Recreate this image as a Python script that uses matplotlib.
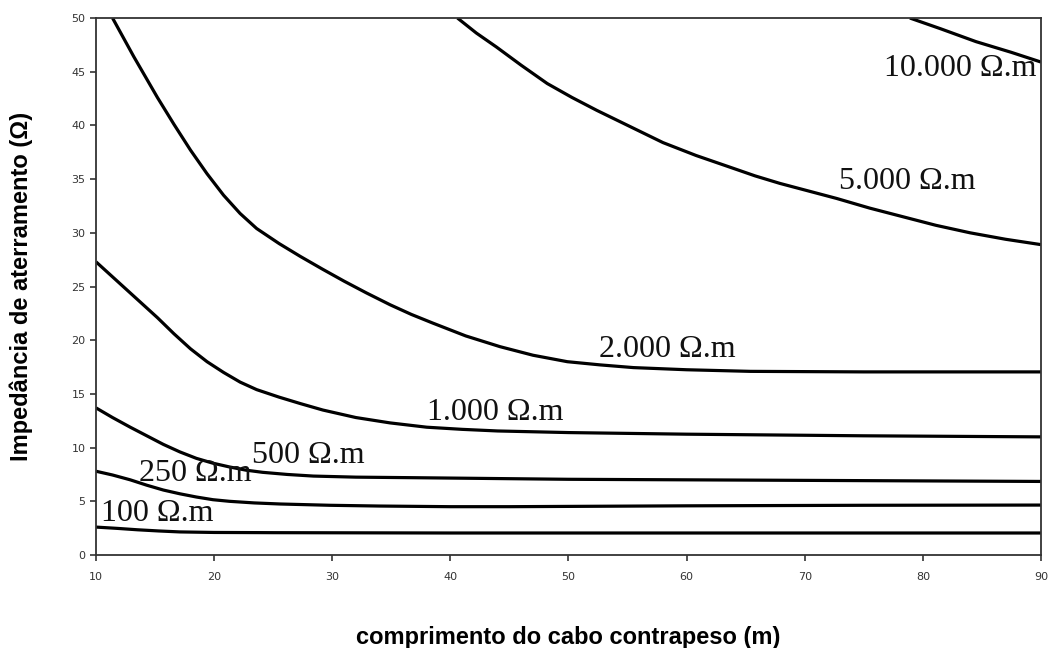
import matplotlib
matplotlib.use('Agg')
import matplotlib.pyplot as plt

# curves (x = comprimento, y = impedancia)
x_10000 = [78.9, 81.5, 84.5, 87.5, 90.0]
y_10000 = [50.0, 49.0, 47.8, 46.8, 45.9]

x_5000 = [40.6, 42.2, 43.9, 46.0, 48.2, 50.3, 52.4, 55.2, 58.0, 60.8, 63.7, 65.8,
          67.9, 70.3, 72.7, 75.5, 78.3, 81.1, 84.0, 87.0, 90.0]
y_5000 = [50.0, 48.6, 47.3, 45.6, 43.9, 42.6, 41.4, 39.9, 38.4, 37.2, 36.1, 35.3,
          34.6, 33.9, 33.2, 32.3, 31.5, 30.7, 30.0, 29.4, 28.9]

x_2000 = [11.4, 12.3, 13.2, 14.2, 15.2, 16.6, 18.0, 19.4, 20.8, 22.2, 23.6, 25.5,
          27.3, 29.2, 31.0, 32.9, 34.9, 36.7, 38.5, 41.3, 44.2, 47.0, 49.9, 52.7,
          55.5, 60.0, 65.4, 75.0, 90.0]
y_2000 = [50.0, 48.2, 46.4, 44.5, 42.6, 40.1, 37.7, 35.5, 33.5, 31.8, 30.4, 29.0,
          27.8, 26.6, 25.5, 24.4, 23.3, 22.4, 21.6, 20.4, 19.4, 18.6, 18.0, 17.7,
          17.45, 17.25, 17.1, 17.05, 17.05]

x_1000 = [10.0, 11.1, 12.3, 13.7, 15.2, 16.6, 18.0, 19.4, 20.8, 22.2, 23.6, 25.5,
          27.3, 29.2, 32.0, 34.9, 38.0, 41.0, 44.0, 50.0, 60.0, 75.0, 90.0]
y_1000 = [27.3, 26.2, 25.0, 23.6, 22.1, 20.6, 19.2, 18.0, 17.0, 16.1, 15.4, 14.7,
          14.1, 13.5, 12.8, 12.3, 11.9, 11.7, 11.55, 11.4, 11.25, 11.1, 11.0]

x_500 = [10.0, 11.4, 12.9, 14.3, 15.7, 17.1, 18.5, 19.9, 21.3, 22.7, 24.1, 26.2,
         28.4, 32.0, 36.8, 50.0, 70.0, 90.0]
y_500 = [13.7, 12.8, 11.9, 11.1, 10.3, 9.6, 9.0, 8.55, 8.2, 7.9, 7.7, 7.5,
         7.35, 7.25, 7.2, 7.05, 6.95, 6.85]

x_250 = [10.0, 11.4, 12.9, 14.3, 15.7, 17.1, 18.5, 19.9, 21.3, 23.4, 25.6, 29.8,
         34.0, 40.0, 45.0, 60.0, 75.0, 90.0]
y_250 = [7.8, 7.45, 7.0, 6.5, 6.05, 5.7, 5.4, 5.15, 5.0, 4.85, 4.75, 4.63,
         4.56, 4.5, 4.5, 4.58, 4.63, 4.65]

x_100 = [10.0, 11.8, 13.5, 15.3, 17.1, 20.0, 25.0, 40.0, 90.0]
y_100 = [2.6, 2.48, 2.35, 2.24, 2.15, 2.1, 2.08, 2.05, 2.05]

series = [
    (x_10000, y_10000, '10.000 Ω.m', 83.2, 45.3),
    (x_5000, y_5000, '5.000 Ω.m', 78.7, 34.8),
    (x_2000, y_2000, '2.000 Ω.m', 58.4, 19.1),
    (x_1000, y_1000, '1.000 Ω.m', 43.8, 13.3),
    (x_500, y_500, '500 Ω.m', 28.0, 9.3),
    (x_250, y_250, '250 Ω.m', 18.4, 7.6),
    (x_100, y_100, '100 Ω.m', 15.2, 3.9),
]

x_ticks = [10, 20, 30, 40, 50, 60, 70, 80, 90]
y_ticks = [0, 5, 10, 15, 20, 25, 30, 35, 40, 45, 50]

fig = plt.figure(figsize=(10.48, 6.48), dpi=100)
ax = fig.add_axes([0.0916, 0.1435, 0.9017, 0.8287])

for xs, ys, label, lx, ly in series:
    ax.plot(xs, ys, color='black', linewidth=2.3, solid_capstyle='butt',
            solid_joinstyle='round')
    ax.text(lx, ly, label, family='Liberation Serif', fontsize=23,
            ha='center', va='center', color='#111111')

ax.set_xlim(10, 90)
ax.set_ylim(0, 50)
ax.set_xticks(x_ticks)
ax.set_yticks(y_ticks)
ax.tick_params(direction='out', length=4, width=1.2, color='#333333',
               labelsize=8, labelcolor='#333333')
ax.tick_params(axis='x', pad=8)
for sp in ax.spines.values():
    sp.set_color('#333333')
    sp.set_linewidth(1.3)

ax.set_xlabel('comprimento do cabo contrapeso (m)', family='Liberation Sans',
              fontsize=17, fontweight='bold', labelpad=32)
ax.set_ylabel('Impedância de aterramento (Ω)', family='Liberation Sans',
              fontsize=17, fontweight='bold', labelpad=28)

fig.savefig('out.png', dpi=100)
